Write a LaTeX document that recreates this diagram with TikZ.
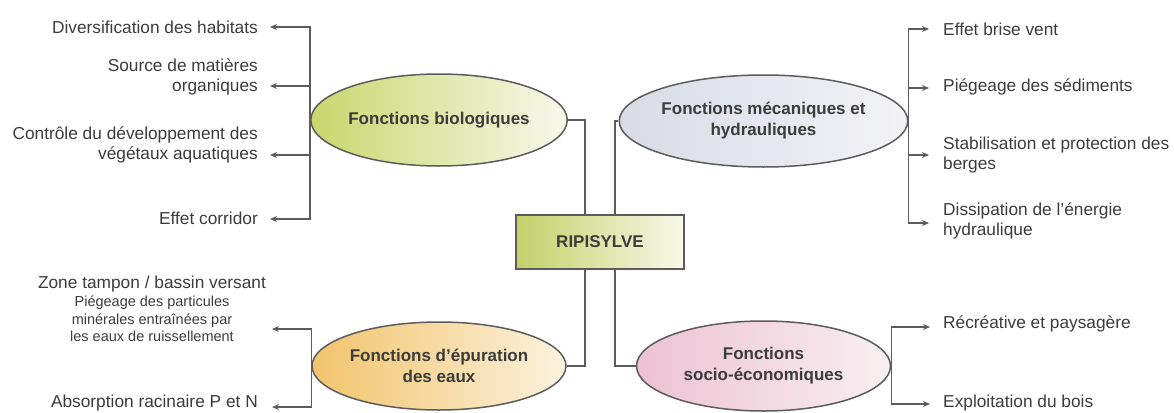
\documentclass[tikz,border=0pt]{standalone}
\usepackage{fontspec}
\setmainfont{Liberation Sans}
\usetikzlibrary{shapes.geometric,arrows.meta}
\definecolor{linec}{HTML}{5C5C5C}
\definecolor{txtc}{HTML}{3C3C3C}
\definecolor{bioL}{HTML}{C8D76C}
\definecolor{bioR}{HTML}{F8F8EC}
\definecolor{mecL}{HTML}{D9DCE6}
\definecolor{mecR}{HTML}{F3F3F6}
\definecolor{epuL}{HTML}{F2C46C}
\definecolor{epuR}{HTML}{FBF2DE}
\definecolor{socL}{HTML}{EDC2D2}
\definecolor{socR}{HTML}{F8EFF1}
\definecolor{boxL}{HTML}{C3D168}
\definecolor{boxR}{HTML}{F8F8EA}
\begin{document}
\begin{tikzpicture}[x=1pt,y=-1pt,
  fn/.style={ellipse, draw=linec, line width=1.5pt, minimum width=254pt, minimum height=92pt,
    inner sep=0pt, align=center, text=txtc, font=\fontsize{17}{21}\selectfont\bfseries},
  rbox/.style={draw=linec, line width=1.5pt, minimum width=168pt, minimum height=54pt,
    left color=boxL, right color=boxR, text=txtc, font=\fontsize{17}{20}\selectfont\bfseries},
  conn/.style={draw=linec, line width=1.3pt},
  arr/.style={conn, -{Stealth[length=7pt,width=6pt]}},
  lbl/.style={inner sep=0pt, text=txtc, font=\fontsize{17.3}{19.5}\selectfont},
  small/.style={inner sep=0pt, text=txtc, align=center, font=\fontsize{14.5}{17.5}\selectfont}
]
\useasboundingbox (0,0) rectangle (1174,412);

% central box and function ellipses
\node[rbox] (rip) at (600,242) {RIPISYLVE};
\node[fn, left color=bioL, right color=bioR] (bio) at (439,120) {Fonctions biologiques};
\node[fn, left color=mecL, right color=mecR] (meca) at (763.5,121) {Fonctions mécaniques et\\hydrauliques};
\node[fn, left color=epuL, right color=epuR, minimum height=88pt] (epu) at (439,366) {Fonctions d'épuration\\des eaux};
\node[fn, left color=socL, right color=socR, minimum height=90pt] (socio) at (763.5,366) {Fonctions\\socio-économiques};

% connectors to the central box
\draw[conn] (bio.east) -| ([xshift=-15pt]rip.north);
\draw[conn] (meca.west) -| ([xshift=15pt]rip.north);
\draw[conn] (epu.east) -| ([xshift=-15pt]rip.south);
\draw[conn] (socio.west) -| ([xshift=15pt]rip.south);

% left labels (biological)
\node[lbl, anchor=east] (l1) at (258,27) {Diversification des habitats};
\node[lbl, anchor=east, align=right] (l2) at (258,77) {Source de matières\\organiques};
\node[lbl, anchor=east, align=right] (l3) at (258,145) {Contrôle du développement des\\végétaux aquatiques};
\node[lbl, anchor=east] (l4) at (258,218) {Effet corridor};
\coordinate (a1) at (270,27);
\coordinate (a2) at (270,86);
\coordinate (a3) at (270,155);
\coordinate (a4) at (270,219);
\draw[arr] (bio.west) |- (a1);
\draw[arr] (bio.west) |- (a2);
\draw[arr] (bio.west) |- (a3);
\draw[arr] (bio.west) |- (a4);

% right labels (mechanical)
\node[lbl, anchor=west] (r1) at (943,29) {Effet brise vent};
\node[lbl, anchor=west] (r2) at (943,87) {Piégeage des sédiments};
\node[lbl, anchor=west, align=left] (r3) at (943,155) {Stabilisation et protection des\\berges};
\node[lbl, anchor=west, align=left] (r4) at (943,221) {Dissipation de l'énergie\\hydraulique};
\coordinate (b1) at (929,29);
\coordinate (b2) at (929,88);
\coordinate (b3) at (929,155);
\coordinate (b4) at (929,223);
\draw[arr] (meca.east) |- (b1);
\draw[arr] (meca.east) |- (b2);
\draw[arr] (meca.east) |- (b3);
\draw[arr] (meca.east) |- (b4);

% bottom left labels (epuration)
\node[lbl, anchor=center] (e1) at (152,284) {Zone tampon / bassin versant};
\node[small] (e1s) at (152,319) {Piégeage des particules\\minérales entraînées par\\les eaux de ruissellement};
\node[lbl, anchor=east] (e2) at (258,403) {Absorption racinaire P et N};
\coordinate (c1) at (272,329);
\coordinate (c2) at (272,407);
\draw[arr] (epu.west) |- (c1);
\draw[arr] (epu.west) |- (c2);

% bottom right labels (socio-economic)
\node[lbl, anchor=west] (s1) at (943,324) {Récréative et paysagère};
\node[lbl, anchor=west] (s2) at (943,403) {Exploitation du bois};
\coordinate (d1) at (930,327);
\coordinate (d2) at (930,404);
\draw[arr] (socio.east) |- (d1);
\draw[arr] (socio.east) |- (d2);
\end{tikzpicture}
\end{document}
